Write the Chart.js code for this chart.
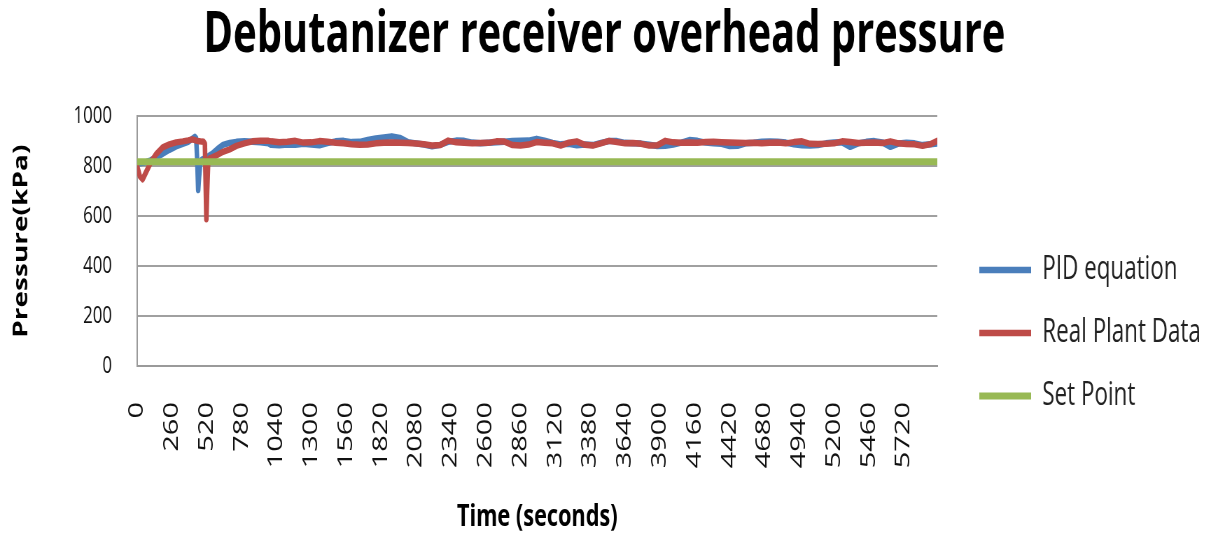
<!DOCTYPE html>
<html>
<head>
<meta charset="utf-8">
<script src="https://cdn.jsdelivr.net/npm/chart.js@4.4.1/dist/chart.umd.min.js"></script>
<style>
  html, body { margin: 0; padding: 0; background: #fff; overflow: hidden; }
  /* the source picture is squeezed horizontally, so draw wide and compress */
  #wrap { position: relative; width: 1727px; height: 536px; transform: scaleX(0.7); transform-origin: 0 0; }
</style>
</head>
<body>
<div id="wrap"><canvas id="chart"></canvas></div>
<script>
// time in seconds
const times = [
  0, 20, 40, 60, 100, 140, 190, 240, 290, 340, 380, 410, 430, 440, 448, 455, 462, 470, 480, 495,
  505, 511, 516, 522, 530, 540, 560, 600, 640, 690, 740, 800, 860, 920, 980,
  1000, 1060, 1120, 1180, 1240, 1300, 1360, 1420, 1480, 1540, 1600, 1660, 1720, 1780, 1840, 1900, 1960,
  2020, 2080, 2140, 2200, 2260, 2320, 2380, 2440, 2500, 2560, 2620, 2680, 2740, 2800, 2860, 2920, 2980,
  3040, 3100, 3160, 3220, 3280, 3340, 3400, 3460, 3520, 3580, 3640, 3700, 3760, 3820, 3880, 3940,
  4000, 4060, 4120, 4180, 4240, 4300, 4360, 4420, 4480, 4540, 4600, 4660, 4720, 4780, 4840, 4900, 4960,
  5020, 5080, 5140, 5200, 5260, 5320, 5380, 5440, 5500, 5560, 5620, 5680, 5740, 5800, 5860, 5920, 5970
];

const pidValues = [
  812, 812, 814, 816, 824, 836, 850, 866, 880, 890, 898, 910, 918, 912, 820, 705, 760, 810, 826, 830,
  833, 835, 836, 838, 840, 844, 850, 870, 886, 894, 898, 900, 898, 896, 892,
  886, 884, 887, 886, 890, 887, 884, 893, 900, 902, 897, 898, 906, 912, 916, 920, 914,
  897, 892, 887, 880, 886, 898, 903, 902, 895, 892, 894, 896, 898, 901, 902, 903, 910,
  903, 894, 888, 890, 884, 887, 885, 894, 901, 901, 894, 892, 891, 886, 881, 882,
  887, 895, 905, 902, 895, 892, 890, 881, 882, 892, 894, 898, 899, 898, 895, 888, 884,
  883, 885, 892, 895, 896, 878, 892, 898, 901, 896, 878, 891, 894, 892, 885, 888, 891
];

const plantValues = [
  800, 760, 748, 770, 815, 848, 876, 888, 896, 900, 904, 908, 905, 903, 902, 901, 900, 900, 899, 898,
  890, 720, 588, 700, 820, 832, 836, 846, 858, 868, 882, 892, 900, 902, 902,
  900, 896, 898, 902, 895, 896, 901, 898, 894, 892, 888, 886, 887, 892, 894, 895, 894,
  893, 891, 888, 883, 885, 903, 896, 894, 892, 893, 894, 900, 899, 885, 883, 887, 897,
  894, 892, 883, 895, 900, 886, 883, 892, 902, 897, 892, 893, 890, 883, 884, 902,
  896, 894, 895, 894, 897, 898, 896, 895, 894, 893, 894, 892, 894, 895, 892, 897, 900,
  890, 889, 890, 892, 900, 897, 893, 894, 895, 893, 900, 892, 889, 888, 882, 889, 902
];

const setPointTimes = [0, 5970];
const setPointValues = [818, 818];

const xTickValues = [0, 260, 520, 780, 1040, 1300, 1560, 1820, 2080, 2340, 2600, 2860, 3120,
  3380, 3640, 3900, 4160, 4420, 4680, 4940, 5200, 5460, 5720];
const yTickValues = [0, 200, 400, 600, 800, 1000];

const toPoints = (xs, ys) => xs.map((x, i) => ({ x, y: ys[i] }));

Chart.defaults.font.family = "'Open Sans', sans-serif";
Chart.defaults.color = '#000';

// nudge the legend block to where the original sits
const legendShift = {
  id: 'legendShift',
  afterLayout(chart) {
    chart.legend.left += 29;
    chart.legend.right += 29;
  },
};

new Chart(document.getElementById('chart'), {
  type: 'line',
  data: {
    datasets: [
      { label: 'PID equation', data: toPoints(times, pidValues), borderColor: '#4a7ebb', borderWidth: 6.5, order: 2 },
      { label: 'Real Plant Data', data: toPoints(times, plantValues), borderColor: '#be4b48', borderWidth: 6.5, order: 1 },
      { label: 'Set Point', data: toPoints(setPointTimes, setPointValues), borderColor: '#98b954', borderWidth: 7, order: 0 },
    ],
  },
  options: {
    responsive: true,
    maintainAspectRatio: false,
    animation: false,
    elements: {
      point: { radius: 0 },
      line: { tension: 0, borderCapStyle: 'round', borderJoinStyle: 'round', fill: false },
    },
    plugins: {
      tooltip: { enabled: false },
      title: {
        display: true,
        text: 'Debutanizer receiver overhead pressure',
        font: { size: 57, weight: 'bold' },
        padding: { top: 2, bottom: 46 },
      },
      legend: {
        position: 'right',
        title: { display: true, text: ' ', font: { size: 10 }, padding: { top: 59, bottom: 59 } },
        labels: {
          usePointStyle: true,
          pointStyle: 'line',
          pointStyleWidth: 74,
          padding: 31,
          color: '#222',
          font: { size: 32 },
          sort: (a, b) => a.datasetIndex - b.datasetIndex,
        },
      },
    },
    scales: {
      x: {
        type: 'linear',
        min: 0,
        max: 5970,
        afterBuildTicks: s => { s.ticks = xTickValues.map(v => ({ value: v })); },
        afterFit: s => { s.height = 170; s.paddingRight = 388; },
        grid: { display: false, drawTicks: false },
        border: { display: true, color: '#9a9a9a', width: 2 },
        ticks: {
          autoSkip: false, minRotation: 90, maxRotation: 90, padding: 36,
          color: '#111', font: { size: 29 }, callback: v => String(v),
        },
        title: { display: true, text: 'Time (seconds)', font: { size: 31, weight: 'bold' }, padding: { top: 0, bottom: 0 } },
      },
      y: {
        min: 0,
        max: 1000,
        afterBuildTicks: s => { s.ticks = yTickValues.map(v => ({ value: v })); },
        afterFit: s => { s.width = 196; },
        grid: { color: '#a0a0a0', lineWidth: 2, drawTicks: false },
        border: { display: true, color: '#9a9a9a', width: 2 },
        ticks: { padding: 36, color: '#111', font: { size: 24 }, callback: v => String(v) },
        title: { display: true, text: 'Pressure(kPa)', font: { size: 28, weight: 'bold' }, padding: { top: 14, bottom: 0 } },
      },
    },
  },
  plugins: [legendShift],
});
</script>
</body>
</html>
